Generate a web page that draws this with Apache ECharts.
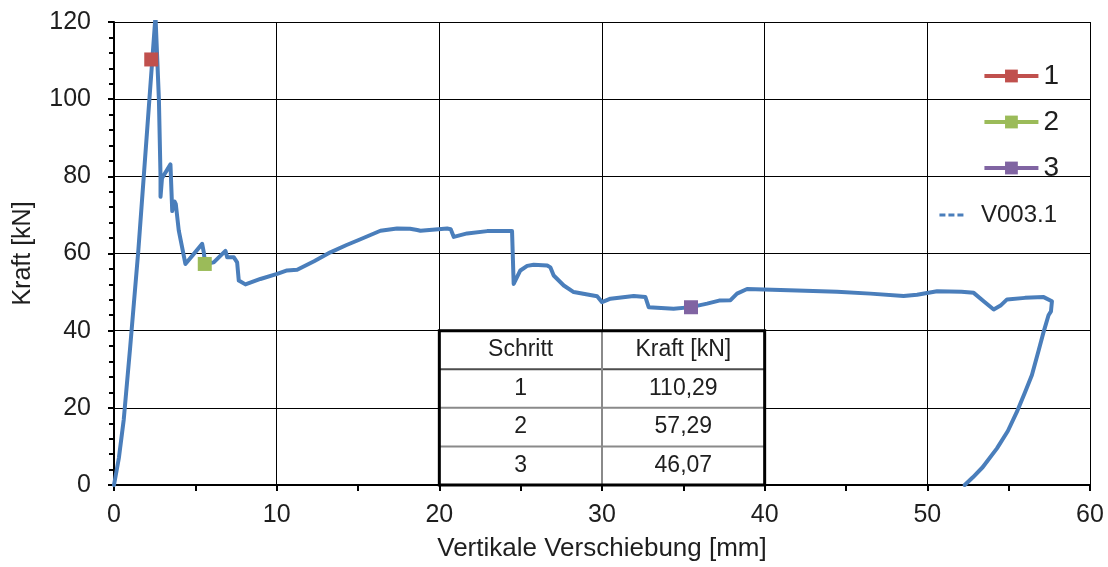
<!DOCTYPE html>
<html><head><meta charset="utf-8">
<script src="https://cdn.jsdelivr.net/npm/echarts@6/dist/echarts.min.js"></script>
<style>html,body{margin:0;padding:0;background:#fff}#c{width:1108px;height:567px}</style>
</head><body><div id="c"></div>
<script>
// ---- data ----
const dispX = [0,0.3,0.6,1.0,1.5,1.83,2.35,2.55,2.76,2.86,
  2.86,2.95,3.47,3.58,3.72,3.8,3.98,4.09,4.39,5.42,
  5.52,5.6,6.13,6.85,6.96,7.37,7.57,7.67,8.08,9.0,
  10.03,10.64,11.26,12.3,13.3,14.3,15.15,16.38,17.4,18.2,
  18.64,18.84,20.48,20.7,20.89,21.71,22.94,24.47,24.57,24.98,
  25.4,25.8,26.63,26.83,27.03,27.65,28.26,29.7,30.0,30.52,
  31.95,32.67,32.87,34.4,35.47,36.46,37.2,37.9,38.3,38.92,
  39.94,42.0,44.45,46.5,48.54,49.37,50.6,52.1,52.85,53.5,
  54.08,54.5,54.9,56.0,57.15,57.66,57.6,57.45,57.15,56.85,
  56.43,56.0,55.51,54.95,54.28,53.4,52.8,52.3];
const force = [0,7,17,36,61,80,110,121.5,100,80,
  74.7,79.5,83.1,71,73.5,72.8,66,66.3,57.3,62.5,
  60.3,57.3,57.7,60.7,59,59,57.7,53,52,53.4,
  54.7,55.6,55.8,58,60.3,62.2,63.7,65.9,66.5,66.4,
  66.1,65.9,66.5,66.3,64.3,65.2,65.8,65.8,52.1,55.6,
  56.8,57.1,56.9,56.4,54.3,51.7,50,48.9,47.4,48.3,
  49,48.7,46.1,45.7,46.1,47,47.8,47.9,49.6,50.8,
  50.7,50.4,50.1,49.6,49,49.3,50.2,50.1,49.8,47.5,
  45.5,46.5,48.1,48.5,48.7,47.6,45,44,39.7,35,
  28.5,24,19,14,9.5,4.6,2,0];
const curveName = 'V003.1';
const stepNames = ['1','2','3'];
const stepX = [2.29, 5.58, 35.47];
const stepForce = [110.29, 57.29, 46.07];
const tableHeader = ['Schritt','Kraft [kN]'];
const xAxisName = 'Vertikale Verschiebung [mm]';
const yAxisName = 'Kraft [kN]';

// ---- styles ----
const font = "'Liberation Sans', Arial, sans-serif";
const txt = '#1e1e1e';
const stepColors = ['#C0504D','#9BBB59','#8064A2'];
const curveColor = '#4A7EBB';

const chart = echarts.init(document.getElementById('c'));
const axisCommon = {
  type:'value',
  nameLocation:'middle',
  nameTextStyle:{fontSize:25,color:txt,fontFamily:font},
  axisLine:{show:true,onZero:false,lineStyle:{color:'#000',width:2}},
  axisTick:{show:true,length:6,lineStyle:{color:'#000',width:2}},
  axisLabel:{fontSize:25,color:txt,fontFamily:font},
  splitLine:{show:true,lineStyle:{color:'#000',width:1}}
};
const series = [{
  name: curveName, type:'line', symbol:'none', z:3,
  data: dispX.map((x,i)=>[x, force[i]]),
  lineStyle:{color:curveColor,width:4,join:'round',cap:'round'}, itemStyle:{color:curveColor}
}];
stepNames.forEach((n,i)=>{
  series.push({name:n,type:'line',symbol:'rect',symbolSize:14,z:5,
    data:[[stepX[i],stepForce[i]]],
    itemStyle:{color:stepColors[i]}, lineStyle:{color:stepColors[i],width:4}});
});
const option = {
  animation:false,
  grid:{left:114,right:18,top:22,bottom:80},
  xAxis: Object.assign({}, axisCommon, {
    min:0,max:60,interval:10,name:xAxisName,nameGap:51,
    nameTextStyle:{fontSize:26,color:txt,fontFamily:font},
    minorTick:{show:true,splitNumber:2,length:6,lineStyle:{color:'#000',width:2}},
    axisLabel:Object.assign({},axisCommon.axisLabel,{margin:18})
  }),
  yAxis: Object.assign({}, axisCommon, {
    min:0,max:120,interval:20,name:yAxisName,nameGap:78,
    minorTick:{show:true,splitNumber:5,length:5,lineStyle:{color:'#000',width:2}},
    axisLabel:Object.assign({},axisCommon.axisLabel,{margin:23})
  }),
  legend:[{
    data:stepNames, orient:'vertical', right:44, top:57,
    itemWidth:54, itemHeight:16, itemGap:18,
    lineStyle:{width:4},
    textStyle:{fontSize:28,color:txt,fontFamily:font}
  },{
    data:[{name:curveName,icon:'path://M0,0h6v3h-6z M9,0h6v3h-6z M18,0h6v3h-6z'}],
    orient:'vertical', right:46, top:198,
    itemWidth:25, itemHeight:3,
    textStyle:{fontSize:24,color:txt,fontFamily:font,padding:[0,0,0,12]}
  }],
  series
};
chart.setOption(option);

// ---- data table (anchored to grid cells x 20..40, y 0..40) ----
const px = (x,y)=>chart.convertToPixel({gridIndex:0},[x,y]);
const tl = px(20,40), br = px(40,0);
const colX = [20,30,40].map(v=>px(v,0)[0]);
const rowY = [40,30,20,10,0].map(v=>px(20,v)[1]);
const g = [];
g.push({type:'rect',z:10,shape:{x:tl[0],y:tl[1],width:br[0]-tl[0],height:br[1]-tl[1]},style:{fill:'#fff'}});
for(let r=1;r<4;r++){
  g.push({type:'line',z:11,shape:{x1:tl[0],y1:rowY[r],x2:br[0],y2:rowY[r]},
    style:{stroke:r===1?'#4d4d4d':'#8a8a8a',lineWidth:2}});
}
g.push({type:'line',z:11,shape:{x1:colX[1],y1:tl[1],x2:colX[1],y2:br[1]},style:{stroke:'#8a8a8a',lineWidth:2}});
g.push({type:'rect',z:12,shape:{x:tl[0],y:tl[1],width:br[0]-tl[0],height:br[1]-tl[1]},style:{fill:'none',stroke:'#000',lineWidth:3}});
const rows = [tableHeader].concat(stepNames.map((n,i)=>[n, stepForce[i].toFixed(2).replace('.',',')]));
rows.forEach((row,r)=>{
  row.forEach((t,c)=>{
    g.push({type:'text',z:13,x:(colX[c]+colX[c+1])/2,y:(rowY[r]+rowY[r+1])/2,
      style:{text:t,fill:txt,fontSize:23,fontFamily:font,align:'center',verticalAlign:'middle'}});
  });
});
chart.setOption({graphic:{elements:g}});
</script>
</body></html>
